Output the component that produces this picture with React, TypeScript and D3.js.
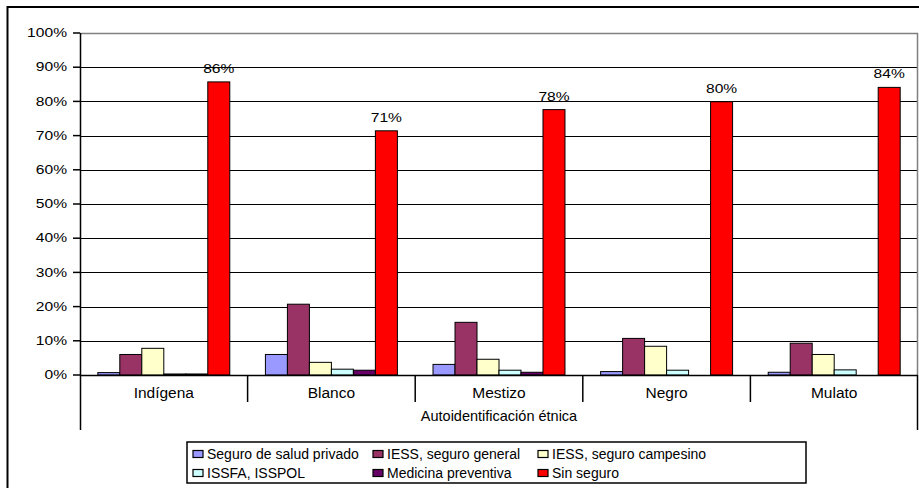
import React from "react";
import * as d3 from "d3";

const categories = ["Indígena", "Blanco", "Mestizo", "Negro", "Mulato"];
const seriesNames = [
  "Seguro de salud privado",
  "IESS, seguro general",
  "IESS, seguro campesino",
  "ISSFA, ISSPOL",
  "Medicina preventiva",
  "Sin seguro",
];
const seriesColors = ["#9999FF", "#993366", "#FFFFCC", "#CCFFFF", "#660066", "#FF0000"];
// values per series, in category order (percent)
const privado = [0.7, 6.0, 3.1, 1.0, 0.8];
const general = [6.0, 20.7, 15.4, 10.7, 9.3];
const campesino = [7.8, 3.7, 4.6, 8.4, 6.0];
const issfa = [0.3, 1.7, 1.4, 1.4, 1.5];
const preventiva = [0.3, 1.4, 0.8, 0.0, 0.0];
const sinSeguro = [85.7, 71.4, 77.6, 79.9, 84.1];
const sinSeguroLabels = ["86%", "71%", "78%", "80%", "84%"];
const yTicks = [0, 10, 20, 30, 40, 50, 60, 70, 80, 90, 100];
const xTitle = "Autoidentificación étnica";

const seriesValues = [privado, general, campesino, issfa, preventiva, sinSeguro];

export default function App() {
  const W = 919, H = 488;
  const left = 80, right = 918, top = 33, bottom = 375;
  const y = d3.scaleLinear().domain([0, 100]).range([bottom, top]);
  const x0 = d3.scaleBand().domain(categories).range([left, right]).padding(0);
  const x1 = d3
    .scaleBand()
    .domain(seriesNames)
    .range([0, x0.bandwidth()])
    .paddingInner(0)
    .paddingOuter(0.81);
  const font = "'Liberation Sans', Arial, sans-serif";
  const legendCols = [193, 373, 538];
  const legendRows = [454, 473];
  const sx = 1.3;

  return (
    <svg width={W} height={H} style={{ position: "absolute", left: 0, top: 0, display: "block" }}>
      <rect x={0} y={0} width={W} height={H} fill="#fff" />
      {/* outer chart border */}
      <rect x={7.5} y={7} width={W + 10} height={H + 10} fill="none" stroke="#000" strokeWidth={2} />
      {/* gridlines */}
      {yTicks.slice(1, -1).map((t) => (
        <line key={t} x1={left} x2={right} y1={Math.round(y(t)) + 0.5} y2={Math.round(y(t)) + 0.5} stroke="#000" strokeWidth={1.2} />
      ))}
      {/* plot area border top/right */}
      <line x1={left} x2={right} y1={top + 0.5} y2={top + 0.5} stroke="#808080" strokeWidth={1.5} />
      <line x1={right - 0.5} x2={right - 0.5} y1={top} y2={bottom} stroke="#808080" strokeWidth={1.5} />
      {/* bars */}
      {categories.map((c, ci) =>
        seriesNames.map((s, si) => {
          const v = seriesValues[si][ci];
          if (v <= 0) return null;
          const bx = (x0(c) as number) + (x1(s) as number);
          const by = y(v);
          return (
            <rect
              key={c + s}
              x={bx}
              y={by}
              width={x1.bandwidth()}
              height={bottom - by}
              fill={seriesColors[si]}
              stroke="#000"
              strokeWidth={1}
            />
          );
        })
      )}
      {/* data labels on Sin seguro */}
      {categories.map((c, ci) => {
        const bx = (x0(c) as number) + (x1(seriesNames[5]) as number) + x1.bandwidth() / 2;
        return (
          <text
            key={c}
            transform={`translate(${bx},${y(sinSeguro[ci]) - 9}) scale(${sx},1)`}
            textAnchor="middle"
            fontFamily={font}
            fontSize={12}
            fill="#000"
          >
            {sinSeguroLabels[ci]}
          </text>
        );
      })}
      {/* y axis */}
      <line x1={left + 0.5} x2={left + 0.5} y1={top} y2={430} stroke="#000" strokeWidth={1.5} />
      {yTicks.map((t) => (
        <g key={t}>
          <line x1={left - 7} x2={left} y1={y(t)} y2={y(t)} stroke="#000" strokeWidth={1.5} />
          <text
            transform={`translate(67,${y(t)}) scale(${sx},1)`}
            dy="0.35em"
            textAnchor="end"
            fontFamily={font}
            fontSize={12}
            fill="#000"
          >
            {t}%
          </text>
        </g>
      ))}
      {/* x axis */}
      <line x1={left} x2={right} y1={bottom + 0.5} y2={bottom + 0.5} stroke="#000" strokeWidth={1.5} />
      {categories.slice(1).map((c) => (
        <line key={c} x1={(x0(c) as number)} x2={(x0(c) as number)} y1={bottom} y2={402} stroke="#000" strokeWidth={1.5} />
      ))}
      <line x1={right - 0.5} x2={right - 0.5} y1={bottom} y2={430} stroke="#000" strokeWidth={1.5} />
      {categories.map((c) => (
        <text key={c} x={(x0(c) as number) + x0.bandwidth() / 2} y={398} textAnchor="middle" fontFamily={font} fontSize={15.5} fill="#000">
          {c}
        </text>
      ))}
      <text x={(left + right) / 2} y={421} textAnchor="middle" fontFamily={font} fontSize={14.5} fill="#000">
        {xTitle}
      </text>
      {/* legend */}
      <rect x={187} y={442} width={619} height={41} fill="#fff" stroke="#000" strokeWidth={1.5} />
      {seriesNames.map((s, i) => {
        const col = i % 3;
        const row = Math.floor(i / 3);
        const lx = legendCols[col];
        const ly = legendRows[row];
        return (
          <g key={s}>
            <rect x={lx} y={ly - 3.5} width={10} height={7} fill={seriesColors[i]} stroke="#000" strokeWidth={1.2} />
            <text x={lx + 14} y={ly} dy="0.35em" fontFamily={font} fontSize={14} fill="#000">
              {s}
            </text>
          </g>
        );
      })}
    </svg>
  );
}
